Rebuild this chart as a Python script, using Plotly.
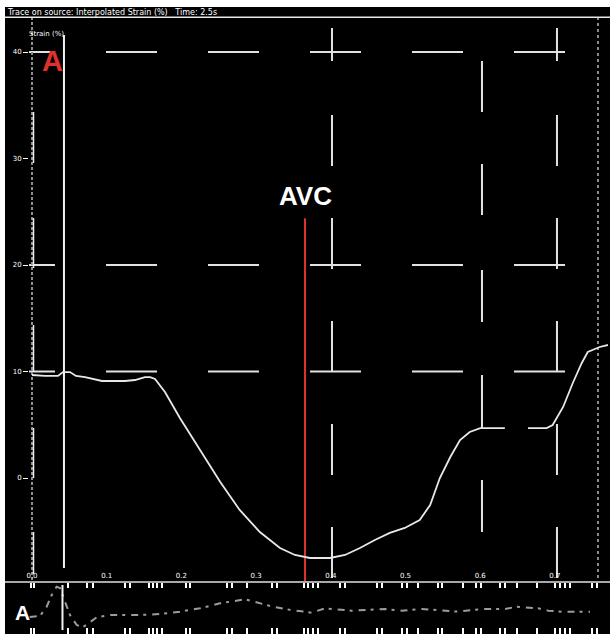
import plotly.graph_objects as go

# ---------------- data ----------------
time_s = [0.0, 0.0174, 0.0348, 0.0415, 0.0509, 0.0589, 0.0710, 0.0843, 0.0937, 0.1111,
          0.1245, 0.1379, 0.1513, 0.1580, 0.1647, 0.178, 0.198, 0.225, 0.252, 0.278,
          0.305, 0.332, 0.352, 0.372, 0.399, 0.419, 0.439, 0.459, 0.479, 0.499,
          0.519, 0.533, 0.546, 0.560, 0.573, 0.586, 0.600, 0.633, None, 0.664,
          0.689, 0.697, 0.711, 0.724, 0.736, 0.744, 0.760, 0.771]
strain_pct = [9.67, 9.58, 9.58, 9.95, 9.95, 9.58, 9.48, 9.30, 9.11, 9.11,
              9.11, 9.20, 9.48, 9.48, 9.30, 8.08, 5.63, 2.63, -0.38, -3.00,
              -5.07, -6.57, -7.23, -7.51, -7.51, -7.23, -6.57, -5.82, -5.16, -4.69,
              -3.94, -2.54, 0.00, 1.97, 3.57, 4.32, 4.69, 4.69, None, 4.69,
              4.69, 4.98, 6.67, 8.92, 10.80, 11.83, 12.30, 12.49]

ecg_time_s = [-0.003, 0.0107, 0.0197, 0.0264, 0.033, 0.0375, 0.0442, 0.0509, 0.0598, 0.0679,
              0.0754, 0.0866, 0.1044, 0.1446, 0.1714, 0.1981, 0.2249, 0.2517, 0.2851, 0.3052,
              0.3226, 0.3409, 0.3744, 0.3922, 0.4279, 0.4726, 0.4949, 0.5217, 0.5484, 0.5707,
              0.6020, 0.6332, 0.6488, 0.6778, 0.6912, 0.7091, 0.7313, 0.7470]
ecg_mv = [0.327, 0.346, 0.525, 0.75, 0.91, 0.885, 0.621, 0.365, 0.173, 0.128,
          0.205, 0.321, 0.365, 0.365, 0.385, 0.429, 0.494, 0.590, 0.667, 0.590,
          0.525, 0.474, 0.410, 0.494, 0.448, 0.481, 0.448, 0.481, 0.448, 0.429,
          0.481, 0.481, 0.525, 0.494, 0.448, 0.429, 0.429, 0.429]

x_tick_vals = [0.0, 0.1, 0.2, 0.3, 0.4, 0.5, 0.6, 0.7]
x_tick_text = ["0.0", "0.1", "0.2", "0.3", "0.4", "0.5", "0.6", "0.7"]
y_tick_vals = [40, 30, 20, 10, 0]
y_tick_text = ["40", "30", "20", "10", "0"]

event_names = ["A", "AVC"]
event_times = [0.0428, 0.3655]

grid_strain = [40, 20, 10]
grid_time_a = [0.4016, 0.7028]
grid_time_b = [0.6024]
ref_time_right = [0.7577]

ecg_tick_times = [-0.002, 0.003, 0.048, 0.0736, 0.0817, 0.1245, 0.1312, 0.1566, 0.162, 0.1673,
                  0.174, 0.2062, 0.2115, 0.261, 0.2677, 0.2878, 0.3213, 0.328, 0.3641, 0.3695,
                  0.3762, 0.3829, 0.4123, 0.419, 0.4618, 0.4685, 0.4953, 0.5020, 0.5167, 0.5435,
                  0.5489, 0.5770, 0.5944, 0.6011, 0.6265, 0.6332, 0.6493, 0.6760, 0.7001, 0.7068,
                  0.7135, 0.7202, 0.7497, 0.7564]

# ---------------- geometry / styles ----------------
X_RANGE = [-0.00402, 0.7711]
Y_RANGE = [-9.765, 43.286]
ECG_FRAC = 52 / 617

H_DASH = "26px,51px,51px,51px,51px,51px,51px,51px,51px,51px,51px,51px,51px,51px"
V_DASH_A = "0px,11px,33px,54px,51px,52px,51px,52px,51px,52px,51px,52px,51px,100px"
V_DASH_B = "0px,44px,51px,52px,51px,55px,52px,53px,53px,52px,52px,100px"
AXIS_SOLID = "0px,95px,51px,55px,50px,57px,47px,56px,50px,54px,42px,100px"
GRID_COL = "#e2e2e2"

fig = go.Figure()

# horizontal dashed grid
for g in grid_strain:
    fig.add_trace(go.Scatter(x=X_RANGE, y=[g, g], mode="lines", hoverinfo="skip",
                             line=dict(color=GRID_COL, width=2, dash=H_DASH),
                             showlegend=False, xaxis="x", yaxis="y"))
# vertical dashed grid
for g in grid_time_a:
    fig.add_trace(go.Scatter(x=[g, g], y=[Y_RANGE[1], Y_RANGE[0]], mode="lines", hoverinfo="skip",
                             line=dict(color=GRID_COL, width=2, dash=V_DASH_A),
                             showlegend=False))
for g in grid_time_b:
    fig.add_trace(go.Scatter(x=[g, g], y=[Y_RANGE[1], Y_RANGE[0]], mode="lines", hoverinfo="skip",
                             line=dict(color=GRID_COL, width=2, dash=V_DASH_B),
                             showlegend=False))
for g in ref_time_right:
    fig.add_trace(go.Scatter(x=[g, g], y=[Y_RANGE[1], Y_RANGE[0]], mode="lines", hoverinfo="skip",
                             line=dict(color="#8a8a8a", width=2, dash="3px,3px"),
                             showlegend=False))

# left axis: dashed line + solid segments
fig.add_trace(go.Scatter(x=[0, 0], y=[Y_RANGE[1], Y_RANGE[0]], mode="lines", hoverinfo="skip",
                         line=dict(color="#8f8f8f", width=2, dash="3px,2px"), showlegend=False))
fig.add_trace(go.Scatter(x=[0.002, 0.002], y=[Y_RANGE[1], Y_RANGE[0]], mode="lines", hoverinfo="skip",
                         line=dict(color="#f0f0f0", width=1.5, dash=AXIS_SOLID), showlegend=False))

# event markers
fig.add_trace(go.Scatter(x=[event_times[0]] * 2, y=[41.6, -8.45], mode="lines", hoverinfo="skip",
                         line=dict(color="#f2f2f2", width=2), showlegend=False))
fig.add_trace(go.Scatter(x=[event_times[1]] * 2, y=[24.4, Y_RANGE[0]], mode="lines", hoverinfo="skip",
                         line=dict(color="#e0322c", width=2), showlegend=False))

# main curve
fig.add_trace(go.Scatter(x=time_s, y=strain_pct, mode="lines", connectgaps=False,
                         line=dict(color="#e8e8e8", width=1.8), showlegend=False))

# ECG strip
fig.add_trace(go.Scatter(x=ecg_time_s, y=ecg_mv, mode="lines", xaxis="x2", yaxis="y2",
                         line=dict(color="#9c9c9c", width=2, dash="7px,5px,3px,6px"),
                         showlegend=False))
fig.add_trace(go.Scatter(x=[event_times[0] - 0.002] * 2, y=[0.942, 0.077], mode="lines",
                         xaxis="x2", yaxis="y2", hoverinfo="skip",
                         line=dict(color="#f2f2f2", width=2), showlegend=False))

# ---------------- annotations ----------------
annotations = [
    dict(text="Trace on source: Interpolated Strain (%)   Time: 2.5s", xref="paper", yref="paper",
         x=-0.0415, y=1.0081, xanchor="left", yanchor="middle", showarrow=False,
         font=dict(family="DejaVu Sans", size=8, color="#ffffff")),
    dict(text="Strain (%)", xref="paper", yref="paper", x=-0.0035, y=0.9724,
         xanchor="left", yanchor="middle", showarrow=False,
         font=dict(family="DejaVu Sans", size=7, color="#ffffff")),
    dict(text="<b>" + event_names[0] + "</b>", xref="x", yref="y", x=event_times[0] - 0.016, y=39.2,
         xanchor="center", yanchor="middle", showarrow=False,
         font=dict(family="Liberation Sans", size=29, color="#e0322c")),
    dict(text="<b>" + event_names[1] + "</b>", xref="x", yref="y", x=event_times[1], y=26.5,
         xanchor="center", yanchor="middle", showarrow=False,
         font=dict(family="Liberation Sans", size=26, color="#ffffff")),
    dict(text="<b>A</b>", xref="paper", yref="paper", x=(22 - 29) / 579, y=(634 - 612) / 617,
         xanchor="center", yanchor="middle", showarrow=False,
         font=dict(family="Liberation Sans", size=21, color="#ffffff")),
]

shapes = [
    dict(type="rect", xref="paper", yref="paper", x0=-0.04145, x1=1.0035, y0=-0.01, y1=1.0162,
         fillcolor="#000000", line=dict(width=0), layer="below"),
    dict(type="line", xref="paper", yref="paper", x0=-0.04145, x1=1.0035, y0=0.9995, y1=0.9995,
         line=dict(color="#e8e8e8", width=1.5)),
    dict(type="line", xref="paper", yref="paper", x0=-0.04145, x1=1.0035, y0=ECG_FRAC, y1=ECG_FRAC,
         line=dict(color="#a8a8a8", width=2)),
]

fig.update_layout(
    width=610, height=634,
    margin=dict(l=29, r=2, t=17, b=0, pad=0),
    paper_bgcolor="#ffffff", plot_bgcolor="#000000",
    showlegend=False,
    xaxis=dict(domain=[0, 1], anchor="y", range=X_RANGE, showgrid=False, zeroline=False,
               showline=False, tickmode="array", tickvals=x_tick_vals, ticktext=x_tick_text,
               ticks="", ticklabelposition="inside", ticklabeloverflow="allow",
               tickfont=dict(family="DejaVu Sans", size=7, color="#ffffff")),
    yaxis=dict(domain=[ECG_FRAC, 1], anchor="x", range=Y_RANGE, showgrid=False, zeroline=False,
               showline=False, tickmode="array", tickvals=y_tick_vals, ticktext=y_tick_text,
               ticks="outside", ticklen=5, tickcolor="#ffffff", tickwidth=1,
               tickfont=dict(family="DejaVu Sans", size=7, color="#ffffff")),
    xaxis2=dict(domain=[0, 1], anchor="y2", range=X_RANGE, showgrid=False, zeroline=False,
                showline=True, linecolor="#a8a8a8", linewidth=1, mirror="ticks",
                tickmode="array", tickvals=ecg_tick_times, ticks="inside", ticklen=6,
                tickcolor="#ffffff", tickwidth=1.5, showticklabels=False),
    yaxis2=dict(domain=[0, ECG_FRAC], anchor="x2", range=[0, 1], showgrid=False, zeroline=False,
                showline=False, showticklabels=False, ticks=""),
    annotations=annotations,
    shapes=shapes,
)

fig.write_html("out.html")
